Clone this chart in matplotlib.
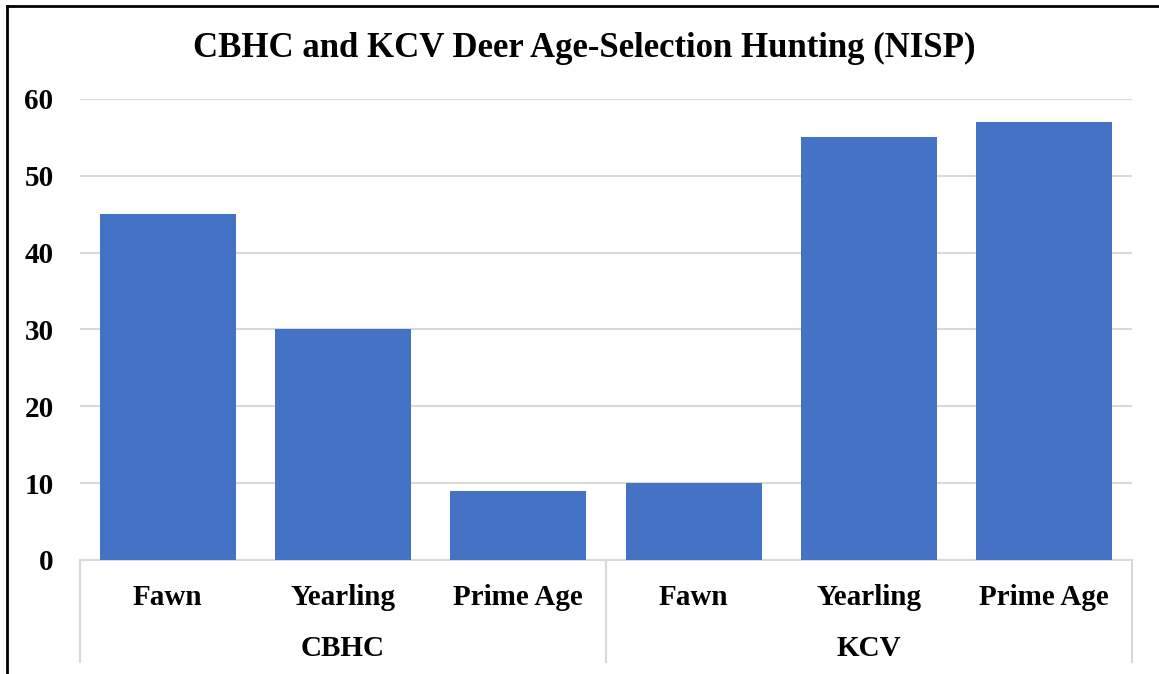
import matplotlib.pyplot as plt
from matplotlib.lines import Line2D

# data
groups = ["CBHC", "KCV"]
ages = ["Fawn", "Yearling", "Prime Age"]
cbhc_nisp = [45, 30, 9]
kcv_nisp = [10, 55, 57]

values = cbhc_nisp + kcv_nisp
labels = ages + ages
x = list(range(len(values)))

plt.rcParams['font.family'] = ['Liberation Serif', 'DejaVu Serif']
plt.rcParams['font.weight'] = 'bold'

W, H = 1159, 674
fig = plt.figure(figsize=(W / 100, H / 100), dpi=100)
ax = fig.add_axes([80 / W, (H - 560) / H, (1132 - 80) / W, (560 - 99) / H])

ax.bar(x, values, width=0.776, color="#4472C4", zorder=3)
ax.set_xlim(-0.5, len(values) - 0.5)
ax.set_ylim(0, 60)
ax.set_yticks(range(0, 61, 10))
ax.yaxis.grid(True, color="#d9d9d9", linewidth=1.5, zorder=0)
ax.tick_params(axis='y', length=0, pad=19, labelsize=21)
for lab in ax.get_yticklabels():
    lab.set_fontweight('bold')

for s in ['top', 'right', 'left']:
    ax.spines[s].set_visible(False)
ax.spines['bottom'].set_color("#d9d9d9")
ax.spines['bottom'].set_linewidth(1.5)

ax.set_xticks([])
trans = ax.get_xaxis_transform()
ph = 560 - 99
for xi, lab in zip(x, labels):
    ax.text(xi, -(605 - 560) / ph, lab, transform=trans, ha='center', va='baseline',
            fontsize=21, fontweight='bold')

n = len(ages)
for gi, g in enumerate(groups):
    cx = gi * n + (n - 1) / 2
    ax.text(cx, -(656 - 560) / ph, g, transform=trans, ha='center', va='baseline',
            fontsize=21, fontweight='bold')

# group separators below the axis
for sx in [-0.5 + gi * n for gi in range(len(groups) + 1)]:
    ax.plot([sx, sx], [0, -(662 - 560) / ph], transform=trans, color="#d9d9d9",
            linewidth=1.5, clip_on=False)

fig.text(0.5 * (190 + 978) / W, 1 - 57 / H, "CBHC and KCV Deer Age-Selection Hunting (NISP)",
         ha='center', va='baseline', fontsize=25, fontweight='bold')

# outer frame (left and top only are visible)
fig.add_artist(Line2D([6.5 / W, 6.5 / W], [0, 1 - 5.5 / H], color='black', linewidth=2))
fig.add_artist(Line2D([6.5 / W, 1], [1 - 5.5 / H, 1 - 5.5 / H], color='black', linewidth=2))

fig.savefig("out.png", dpi=100)
